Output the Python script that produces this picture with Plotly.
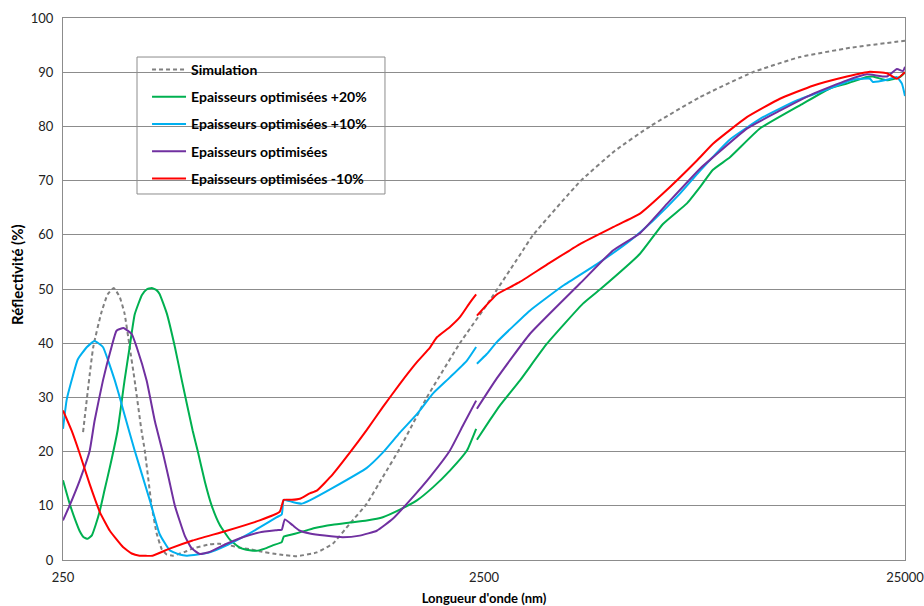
import plotly.graph_objects as go
import math

# ---- data (wavelength in nm, reflectivity in %) ----
sim_wl = [279, 295, 308, 319, 330, 341, 350, 360, 370, 384, 391, 406, 417, 429, 441, 456, 487, 508, 558, 589,
          622, 657, 694, 733, 818, 898, 1002, 1093, 1200, 1317, 1437, 1578, 1829, 2191, 2581, 3091, 3265, 4225,
          5116, 6196, 8146, 10880, 14069, 18497, 25000]
sim_r = [23.6, 39.3, 45.5, 49.0, 50.2, 48.5, 45.5, 39.3, 33.1, 23.9, 20.2, 10.0, 5.0, 2.0, 1.0, 0.8, 1.5, 2.1, 2.9, 3.0,
         2.7, 2.3, 2.0, 1.6, 1.0, 0.7, 1.4, 3.0, 6.7, 10.4, 15.3, 20.6, 30.0, 40.0, 47.9, 57.1, 59.9, 69.8,
         75.5, 80.0, 85.4, 90.0, 92.8, 94.5, 95.8]

p20_wl = [250, 259, 267, 274, 280, 286, 293, 299, 306, 314, 323, 337, 350, 360, 370, 385, 395, 406, 417, 424, 441, 461,
          479, 508, 522, 543, 564, 589, 622, 657, 694, 721, 754, 787, 827, 836, 864, 913, 991, 1093, 1200, 1317,
          1437, 1578, 1732, 1890, 2075, 2277, 2395, None, 2405, 2581, 2726, 3041, 3527, 4295, 4713, 5867, 6653,
          7586, 8146, 8746, 9598, 11304, 14304, 16579, 18195, 20299, 20976, 22646, 24315, 25000]
p20_r = [14.7, 10.5, 7.5, 5.3, 4.2, 3.9, 4.6, 6.5, 9.2, 13.0, 17.1, 23.9, 33.1, 39.3, 45.3, 48.9, 49.9, 50.2, 49.8, 49.1, 45.5, 39.3,
         33.1, 23.9, 20.2, 14.5, 10.0, 6.5, 3.8, 2.3, 1.8, 1.7, 2.1, 2.7, 3.3, 4.3, 4.6, 5.1, 5.9, 6.5, 6.9, 7.3,
         7.9, 9.3, 11.0, 13.4, 16.5, 20.2, 24.2, None, 22.2, 25.8, 28.5, 33.1, 39.9, 47.3, 49.9, 56.5, 62.0,
         65.8, 68.8, 72.0, 74.3, 79.6, 84.2, 87.0, 87.9, 89.1, 89.2, 88.5, 89.1, 90.0]

p10_wl = [250, 255, 262, 271, 285, 297, 311, 321, 332, 341, 350, 370, 385, 402, 424, 448, 473, 492, 522, 558,
          612, 668, 733, 805, 827, 836, 878, 923, 964, 1093, 1317, 1437, 1578, 1732, 1890, 2075, 2277, 2395, None,
          2405, 2538, 2681, 3212, 3850, 4637, 5554, 6299, 7302, 8146, 9598, 11491, 13840, 16579, 18802, 20635,
          20976, 22646, 23920, 24582, 25000]
p10_r = [24.2, 29.5, 33.1, 37.0, 39.3, 40.4, 39.3, 36.5, 33.1, 30.0, 26.8, 20.2, 15.8, 11.0, 4.8, 1.8, 1.0, 0.8, 1.0, 1.4,
         2.7, 4.2, 6.0, 7.9, 8.4, 11.1, 10.7, 10.4, 11.0, 13.3, 17.0, 19.8, 23.5, 26.9, 30.7, 33.7, 36.8, 39.3, None,
         36.2, 38.0, 40.2, 46.0, 50.6, 54.6, 58.9, 62.6, 67.6, 71.8, 77.6, 81.7, 84.8, 87.0, 88.6, 88.8,
         88.2, 88.6, 89.1, 87.9, 85.6]

opt_wl = [250, 259, 274, 289, 297, 311, 326, 335, 348, 364, 374, 395, 413, 431, 446, 461, 487, 505, 528, 558,
          612, 668, 733, 805, 827, 841, 878, 913, 964, 1046, 1155, 1267, 1391, 1518, 1667, 1860, 2075, 2228, 2395,
          None, 2405, 2681, 3212, 4225, 5061, 5867, 6800, 8146, 8746, 10528, 12612, 15107, 18195, 20299, 22646,
          23920, 24717, 25000]
opt_r = [7.3, 10.0, 14.7, 20.0, 25.6, 33.1, 39.3, 42.3, 42.8, 41.7, 39.3, 33.1, 25.7, 20.0, 15.0, 10.0, 4.4, 2.2, 1.1, 1.5,
         3.0, 4.2, 5.1, 5.5, 5.6, 7.5, 6.4, 5.4, 4.9, 4.5, 4.2, 4.5, 5.4, 7.6, 11.0, 15.3, 20.2, 24.8, 29.4,
         None, 27.9, 33.5, 41.7, 51.0, 57.1, 60.3, 65.7, 72.2, 74.3, 79.6, 82.9, 86.0, 88.5, 89.6, 89.2,
         90.6, 90.2, 91.0]

m10_wl = [250, 262, 274, 289, 306, 323, 347, 364, 380, 408, 448, 508, 612, 733, 818, 836, 874, 913, 964, 1002,
          1093, 1200, 1317, 1437, 1578, 1732, 1860, 1932, 2075, 2191, 2315, 2395, None, 2405, 2681, 2927, 3041,
          3527, 4225, 5061, 5867, 6653, 8013, 8746, 10528, 12612, 15107, 18195, 20635, 22646, 23920, 25000]
m10_r = [27.6, 23.9, 19.6, 14.1, 8.8, 5.4, 2.4, 1.2, 0.8, 0.8, 2.1, 3.6, 5.4, 7.3, 8.9, 11.1, 11.1, 11.3, 12.3, 12.8,
         15.8, 19.8, 24.0, 28.2, 32.5, 36.5, 39.2, 41.1, 43.0, 44.8, 47.5, 49.0, None, 45.1, 49.0, 50.6, 51.3,
         54.5, 58.3, 61.4, 63.9, 67.6, 73.7, 76.8, 81.7, 85.1, 87.5, 89.2, 90.1, 89.8, 88.8, 90.0]

x_ticks = [250, 2500, 25000]
y_ticks = list(range(0, 101, 10))

series = [
    ("Simulation", sim_wl, sim_r, "#808080", "4px,3px"),
    ("Epaisseurs optimisées +20%", p20_wl, p20_r, "#00B050", None),
    ("Epaisseurs optimisées +10%", p10_wl, p10_r, "#00B0F0", None),
    ("Epaisseurs optimisées", opt_wl, opt_r, "#7030A0", None),
    ("Epaisseurs optimisées -10%", m10_wl, m10_r, "#FF0000", None),
]

fig = go.Figure()
for name, wl, r, color, dash in series:
    fig.add_trace(go.Scatter(
        x=wl, y=r, name=name, mode="lines", legendgroup=name,
        line=dict(color=color, width=2, dash=dash, shape="spline", smoothing=0.4),
        connectgaps=False,
    ))

FONT = "Lato, 'Open Sans', sans-serif"
GRID = "#8c8c8c"

# legend frame (drawn as a shape so it can be wider than the legend's own box)
fig.add_shape(type="rect", xref="paper", yref="paper",
              x0=0.0879, x1=0.3824, y0=0.6753, y1=0.928,
              fillcolor="white", line=dict(color=GRID, width=1), layer="between")

# y-axis title as annotation for exact placement
fig.add_annotation(text="Réflectivité (%)", xref="paper", yref="paper",
                   x=-0.0546, y=0.526, textangle=-90, showarrow=False,
                   xanchor="center", yanchor="middle",
                   font=dict(family=FONT, size=15, color="#000000", weight="bold"))

fig.update_layout(
    width=924, height=606,
    margin=dict(l=63, r=19, t=18, b=46),
    paper_bgcolor="white", plot_bgcolor="white",
    font=dict(family=FONT, size=13, color="#222222"),
    showlegend=True,
    legend=dict(
        x=0.0998, y=0.9336, xanchor="left", yanchor="top",
        bgcolor="rgba(0,0,0,0)", borderwidth=0,
        font=dict(family=FONT, size=14, color="#000000", weight="bold"),
        itemwidth=34, tracegroupgap=6,
    ),
    xaxis=dict(
        type="log", range=[math.log10(250), math.log10(25000)],
        tickmode="array", tickvals=x_ticks, ticktext=[str(v) for v in x_ticks],
        showgrid=False, showline=True, linecolor=GRID, linewidth=1, mirror=True,
        ticks="", zeroline=False, automargin=False, ticklabeloverflow="allow",
        ticklabelstandoff=5,
        tickfont=dict(family=FONT, size=13, color="#222222"),
        title=dict(text="Longueur d'onde (nm)", standoff=10,
                   font=dict(family=FONT, size=13, color="#000000", weight="bold")),
    ),
    yaxis=dict(
        range=[0, 100], tickmode="array", tickvals=y_ticks,
        showgrid=True, gridcolor=GRID, gridwidth=1,
        showline=True, linecolor=GRID, linewidth=1, mirror=True,
        ticks="", zeroline=False, automargin=False, ticklabelstandoff=6,
        tickfont=dict(family=FONT, size=13, color="#222222"),
    ),
)

fig.write_html("out.html", config={"displayModeBar": False},
               post_script="document.body.style.margin='0px';")
